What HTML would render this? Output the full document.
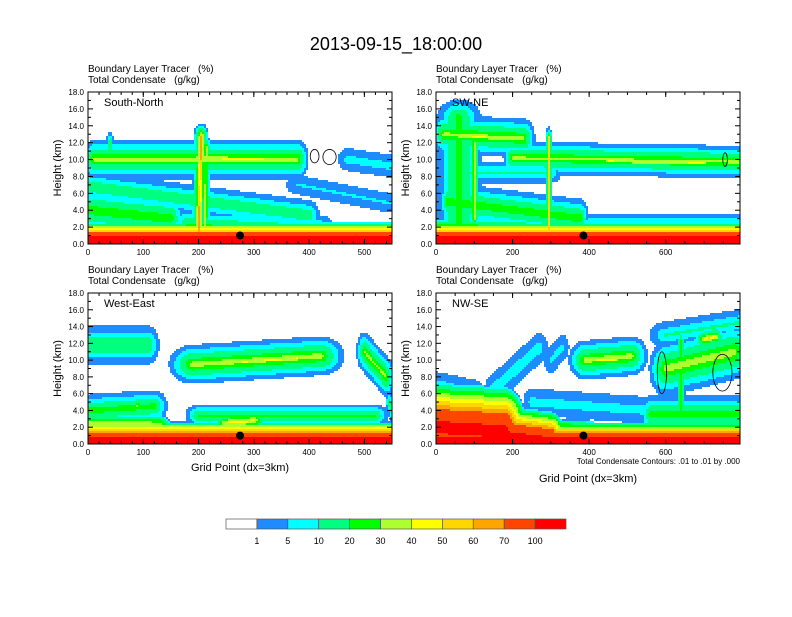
<!DOCTYPE html>
<html><head><meta charset="utf-8"><style>
body{margin:0;background:#fff;}
svg text{font-family:"Liberation Sans",sans-serif;}
</style></head><body>
<svg id="fig" width="792" height="612" viewBox="0 0 792 612" xmlns="http://www.w3.org/2000/svg">
<rect width="792" height="612" fill="#fff"/>
<text x="396" y="50" font-size="18" text-anchor="middle">2013-09-15_18:00:00</text>
<g id="panels"></g>
<g id="cbar"></g>
</svg>
<script>
const levels=[1,5,10,20,30,40,50,60,70,100];
const colors=["#ffffff","#1e8cff","#00ffff","#00ff80","#00ff00","#adff2f","#ffff00","#ffd700","#ffa500","#ff4500","#ff0000"];
const yTicks=[0,2,4,6,8,10,12,14,16,18];
const yTickLabels=["0.0","2.0","4.0","6.0","8.0","10.0","12.0","14.0","16.0","18.0"];
const panelTitles=["South-North","SW-NE","West-East","NW-SE"];
const xMax=[550,794,550,794];
const xTicksA=[0,100,200,300,400,500];
const xTicksB=[0,200,400,600];
const stationX=[275,385,275,385];
// components: [xa,za,xb,zb,sx,h,peak,(mode 0=linear)]
const comp1=[[0,0.3,550,0.3,20,2.3,130,0],[0,1.2,300,1.2,20,1.3,55,0],[180,2.3,420,1.5,30,2,22],[10,10,380,10,20,2.4,36],[200,10.2,320,10,25,1.1,46],
[0,6.8,400,3.4,20,1.9,20],[0,4,150,3,25,2.8,30],[200,1,205,12.8,14,1.5,68],[212,1,214,11.5,9,1.3,45],[380,7,550,4.8,25,1.3,6],[470,10,550,9.2,20,1.5,8],[40,12,40,11,7,1.3,25]];
const comp2=[[0,0.3,794,0.3,20,2.3,130,0],[0,1.5,390,1.2,20,1.5,45,0],[60,2,60,15,60,2.2,28],[20,13,230,12.5,30,2.4,36],[60,12.8,180,12.5,20,1.1,44],
[200,10.2,794,9.7,25,2,35],[450,9.8,700,9.6,40,1,44],[40,8.5,300,8.5,30,1.4,12],[30,5,380,3,20,2.4,30],[295,1,295,12.5,9,1.4,55],[100,3,100,12,13,1.3,45],[400,2.6,794,2.6,20,1.1,10]];
const comp3=[[0,0.3,550,0.3,20,2.4,130,0],[0,2.5,130,2.3,20,1.2,40,0],[0,4,120,4.5,25,2,28],[90,4.6,90,4.5,13,0.9,42],[200,3.4,520,3.4,25,1.4,25],[250,2.5,300,2.8,20,1,45,0],
[0,11.8,110,11.8,20,2.4,22],[190,9.5,420,10.5,45,2.4,40],[280,9.8,380,10.2,35,1.1,46],[500,11,540,8,15,2.4,35],[545,5,550,4,7,1.3,20]];
const comp4=[[0,0.3,794,0.3,20,2.3,130,0],[0,2,180,1.5,60,5.5,115,0],[180,1.2,300,0.5,40,3.5,110,0],[250,1.8,400,1.6,25,1.3,45,0],[390,10,510,10.5,45,2.4,40],[420,10,470,10,25,1,46],[300,10,330,11.5,20,1.7,7],
[150,6.5,270,11.5,25,1.9,9],[0,7,100,6,30,1.8,9],[250,5,560,4,25,1.8,8],[560,3.5,794,3.5,25,2.4,28],[600,9,780,11,45,3.4,40],[700,12.5,730,12.8,25,1.4,52],[600,13,794,14.5,45,1.7,12],[640,4,640,12,13,2.4,30]];
const comps=[comp1,comp2,comp3,comp4];
// black contour ovals: [panel, x, z, rx(grid), rz(km)]
const ovals=[[0,410,10.4,8,0.8],[0,437,10.3,12,0.9],[1,755,10,6,0.8],[3,748,8.5,25,2.2],[3,590,8.5,12,2.5]];
const boxes=[[88,92,392,244],[436,92,740,244],[88,293,392,444],[436,293,740,444]];
const NS="http://www.w3.org/2000/svg";
function mk(t,a,p){const e=document.createElementNS(NS,t);for(const k in a)e.setAttribute(k,a[k]);p.appendChild(e);return e;}
function field(cs,x,z){let m=0;for(const c of cs){const [xa,za,xb,zb,sx,h,v]=c;const mode=c.length>7?c[7]:1;
 const px=x/sx,pz=z/h,ax=xa/sx,az=za/h,bx=xb/sx,bz=zb/h;const dx=bx-ax,dz=bz-az;const L=dx*dx+dz*dz;
 let t=L>0?((px-ax)*dx+(pz-az)*dz)/L:0;t=Math.max(0,Math.min(1,t));const qx=ax+t*dx-px,qz=az+t*dz-pz;const d=Math.sqrt(qx*qx+qz*qz);
 if(d<1){const lin=v*(1-d);const val=mode?Math.sqrt(lin*Math.pow(v,1-d)):lin;if(val>m)m=val;}}return m;}
function lev(v){let i=0;while(i<levels.length&&v>=levels[i])i++;return i;}
const P=document.getElementById('panels');
boxes.forEach((b,pi)=>{
 const [x0,y0,x1,y1]=b;const W=x1-x0,H=y1-y0;
 const g=mk('g',{},P);
 const sx=v=>x0+v/xMax[pi]*W, sy=v=>y1-v/18*H;
 const cg=mk('g',{'shape-rendering':'crispEdges'},g);
 const step=2;
 for(let py=0;py<H;py+=step){let run=-1,rs=0;
  for(let px=0;px<=W;px+=step){let li=-1;if(px<W){const gx=(px+step/2)/W*xMax[pi],gz=(H-py-step/2)/H*18;li=lev(field(comps[pi],gx,gz));}
   if(li!==run){if(run>0){mk('rect',{x:x0+rs,y:y0+py,width:Math.min(px,W)-rs,height:Math.min(step,H-py),fill:colors[run]},cg);}run=li;rs=px;}}}
 ovals.filter(o=>o[0]===pi).forEach(o=>{const e=mk('ellipse',{cx:sx(o[1]),cy:sy(o[2]),rx:o[3]/xMax[pi]*W,ry:o[4]/18*H,fill:'none',stroke:'#000','stroke-width':0.8},g);
  });
 mk('rect',{x:x0,y:y0,width:W,height:H,fill:'none',stroke:'#000','stroke-width':1},g);
 const ax=mk('g',{'font-size':'8'},g);
 yTicks.forEach((t,i)=>{const y=sy(t);mk('line',{x1:x0,x2:x0+5,y1:y,y2:y,stroke:'#000'},ax);mk('line',{x1:x1,x2:x1-5,y1:y,y2:y,stroke:'#000'},ax);
  if(i<yTicks.length-1){const ym=sy(t+1);mk('line',{x1:x0,x2:x0+3,y1:ym,y2:ym,stroke:'#000'},ax);mk('line',{x1:x1,x2:x1-3,y1:ym,y2:ym,stroke:'#000'},ax);}
  const tx=mk('text',{x:x0-4,y:y+3,'text-anchor':'end'},ax);tx.textContent=yTickLabels[i];});
 const xt=xMax[pi]>600?xTicksB:xTicksA;const mstep=xMax[pi]>600?50:20;
 for(let v=0;v<=xMax[pi];v+=mstep){const x=sx(v);mk('line',{x1:x,x2:x,y1:y1,y2:y1-3,stroke:'#000'},ax);mk('line',{x1:x,x2:x,y1:y0,y2:y0+3,stroke:'#000'},ax);}
 xt.forEach(t=>{const x=sx(t);mk('line',{x1:x,x2:x,y1:y1,y2:y1-5,stroke:'#000'},ax);mk('line',{x1:x,x2:x,y1:y0,y2:y0+5,stroke:'#000'},ax);
  const tx=mk('text',{x:x,y:y1+11,'text-anchor':'middle'},ax);tx.textContent=t;});
 const dot=mk('circle',{cx:sx(stationX[pi]),cy:sy(1.0),r:4,fill:'#000'},g);
 const t1=mk('text',{x:x0,y:y0-20,'font-size':'10'},g);t1.textContent='Boundary Layer Tracer   (%)';t1.style.whiteSpace='pre';
 const t2=mk('text',{x:x0,y:y0-9,'font-size':'10'},g);t2.textContent='Total Condensate   (g/kg)';t2.style.whiteSpace='pre';
 const t3=mk('text',{x:x0+16,y:y0+14,'font-size':'11'},g);t3.textContent=panelTitles[pi];
 const yl=mk('text',{x:0,y:0,'font-size':'11','text-anchor':'middle',transform:`translate(${x0-27},${(y0+y1)/2}) rotate(-90)`},g);yl.textContent='Height (km)';
 if(pi>=2){const xl=mk('text',{x:(x0+x1)/2,y:pi==2?y1+27:y1+38,'font-size':'11','text-anchor':'middle'},g);xl.textContent='Grid Point (dx=3km)';}
 if(pi==3){const n=mk('text',{x:x1,y:y1+20,'font-size':'8','text-anchor':'end'},g);n.textContent='Total Condensate Contours: .01 to .01 by .000';}
});
const C=document.getElementById('cbar');const cw=340/colors.length;
colors.forEach((c,i)=>{const r=mk('rect',{x:226+i*cw,y:519,width:cw,height:10,fill:c,stroke:'#555','stroke-width':0.7},C);});
levels.forEach((l,i)=>{const t=mk('text',{x:226+(i+1)*cw,y:544,'font-size':'9','text-anchor':'middle'},C);t.textContent=l;});
</script>
</body></html>
